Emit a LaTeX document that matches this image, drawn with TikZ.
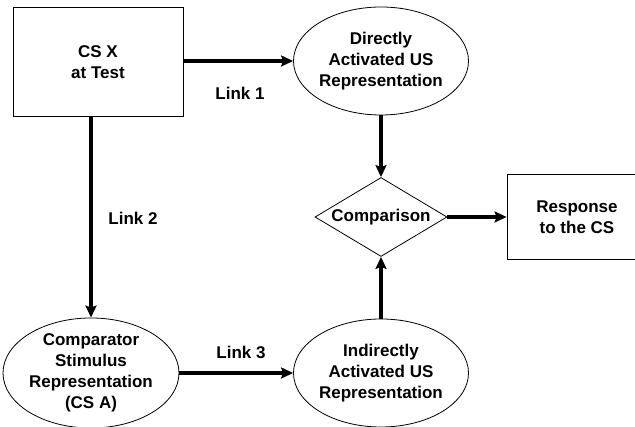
\documentclass[tikz,border=0pt]{standalone}
\usepackage{fontspec}
\setmainfont{Liberation Sans}
\usetikzlibrary{arrows.meta,shapes.geometric,calc}

\begin{document}
\begin{tikzpicture}[x=1pt,y=1pt,
    every node/.style={font=\bfseries\fontsize{17}{20.8}\selectfont},
    box/.style={draw,line width=0.8pt,align=center,inner sep=0pt},
    oval/.style={ellipse,draw,line width=0.8pt,align=center,inner sep=0pt,minimum width=172pt,minimum height=108pt},
    link/.style={line width=3.5pt,-{Stealth[length=12pt,width=11pt,inset=2pt]}}]

    \useasboundingbox (0,0) rectangle (635,427);

    \node[box,minimum width=170pt,minimum height=109pt] at (98,365) (csx) {CS X\\at Test};
    \node[oval] at (381,366) (direct) {Directly\\Activated US\\Representation};
    \node[diamond,draw,line width=0.8pt,inner sep=0pt,aspect=1.67,minimum width=132pt,minimum height=79pt] at (381,210) (comp) {Comparison};
    \node[box,minimum width=140pt,minimum height=85pt] at (577,210) (resp) {Response\\to the CS};
    \node[oval,minimum width=176pt] at (91,54) (compar) {Comparator\\Stimulus\\Representation\\(CS A)};
    \node[oval] at (381,54) (indir) {Indirectly\\Activated US\\Representation};

    \draw[link] (csx.east |- direct.west) -- (direct.west);
    \draw[link] (direct.south) -- (comp.north);
    \draw[link] (comp.east) -- (resp.west);
    \draw[link] (csx.south -| compar.north) -- (compar.north);
    \draw[link] (compar.east) -- (indir.west);
    \draw[link] (indir.north) -- (comp.south);

    \node at (240,334) (lab1) {Link 1};
    \node at (133,209) (lab2) {Link 2};
    \node at (241,75) (lab3) {Link 3};

\end{tikzpicture}
\end{document}
